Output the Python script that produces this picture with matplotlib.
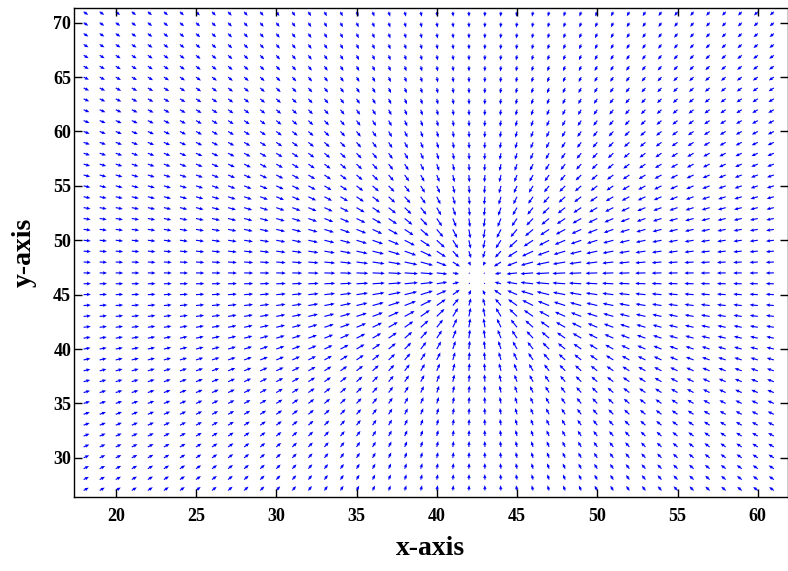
import numpy as np
import matplotlib
matplotlib.use("Agg")
import matplotlib.pyplot as plt

plt.rcParams['font.family'] = ['Liberation Serif', 'DejaVu Serif']
plt.rcParams['font.weight'] = 'bold'

# grid of sample points (one arrow per integer position)
x_grid = np.arange(18, 62)
y_grid = np.arange(27, 72)

# point the flow converges to
center_x = 42.5
center_y = 46.6

ring_dist = [0.0, 1.0, 2.0, 4.0, 7.0, 12.0, 20.0, 32.0]
ring_len = [0.05, 0.15, 0.6, 0.85, 0.75, 0.6, 0.48, 0.4]

xticks = [20, 25, 30, 35, 40, 45, 50, 55, 60]
yticks = [30, 35, 40, 45, 50, 55, 60, 65, 70]

X, Y = np.meshgrid(x_grid, y_grid)
dx = center_x - X
dy = center_y - Y
dist = np.hypot(dx, dy)
dist[dist == 0] = 1e-9
length = np.interp(dist, ring_dist, ring_len)
U = dx / dist * length
V = dy / dist * length

fig = plt.figure(figsize=(7.88, 5.71), dpi=100)
ax = fig.add_axes([74 / 788, 74 / 571, 713.5 / 788, 489 / 571])

ax.quiver(X, Y, U, V, color='#0000ff', angles='xy', scale_units='xy', scale=1,
          width=0.0016, headwidth=3, headlength=3.5, headaxislength=3.2)

ax.set_xlim(17.4, 61.85)
ax.set_ylim(26.4, 71.35)
ax.set_xticks(xticks)
ax.set_yticks(yticks)
ax.tick_params(direction='in', top=True, right=True, length=6, labelsize=13, width=1)
ax.tick_params(axis='y', pad=2)
ax.tick_params(axis='x', pad=8)
for lab in ax.get_xticklabels() + ax.get_yticklabels():
    lab.set_fontweight('bold')
for sp in ax.spines.values():
    sp.set_linewidth(1)

ax.set_xlabel('x-axis', fontsize=20, fontweight='bold', labelpad=8)
ax.set_ylabel('y-axis', fontsize=20, fontweight='bold', labelpad=12)

fig.savefig('out.png', dpi=100)
